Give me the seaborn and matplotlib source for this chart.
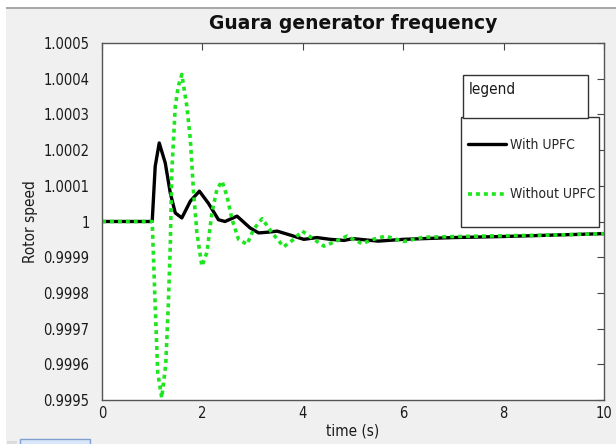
import numpy as np
import pandas as pd
import seaborn as sns
import matplotlib.pyplot as plt
from matplotlib.patches import Rectangle

# values: time (s) and rotor speed deviation from 1 (x 1e-4)
t_upfc = [0, 1.0, 1.06, 1.14, 1.26, 1.36, 1.46, 1.59, 1.76, 1.94, 2.12, 2.32, 2.45,
          2.69, 2.95, 3.12, 3.30, 3.49, 3.75, 4.02, 4.28, 4.55, 4.82, 5.0, 5.5,
          6.0, 7.0, 8.0, 9.0, 10.0]
dev_upfc = [0, 0, 1.55, 2.2, 1.64, 0.8, 0.24, 0.1, 0.57, 0.85, 0.51, 0.05, 0.0,
            0.15, -0.18, -0.32, -0.3, -0.27, -0.38, -0.5, -0.45, -0.5, -0.53, -0.48, -0.55,
            -0.5, -0.45, -0.42, -0.38, -0.34]

t_no_upfc = [0, 1.0, 1.06, 1.11, 1.19, 1.27, 1.32, 1.36, 1.39, 1.46, 1.52, 1.59,
             1.69, 1.76, 1.82, 1.89, 1.99, 2.09, 2.19, 2.29, 2.39, 2.49, 2.59, 2.72,
             2.89, 3.02, 3.19, 3.39, 3.62, 3.80, 3.99, 4.20, 4.42, 4.65, 4.88, 5.18,
             5.40, 5.65, 6.01, 6.41, 7.09, 8.0, 9.0, 10.0]
dev_no_upfc = [0, 0, -2.37, -4.23, -4.94, -4.0, -2.37, -0.69, 1.37, 3.23, 3.79, 4.12,
               3.23, 2.3, 0.9, -0.31, -1.25, -0.87, 0.25, 0.9, 1.13, 0.71, 0.06, -0.5,
               -0.64, -0.22, 0.08, -0.32, -0.71, -0.52, -0.27, -0.48, -0.69, -0.56, -0.41, -0.62,
               -0.5, -0.41, -0.56, -0.44, -0.42, -0.4, -0.38, -0.34]

series_names = ['With UPFC', 'Without UPFC']
y_ticks = [0.9995, 0.9996, 0.9997, 0.9998, 0.9999, 1.0, 1.0001, 1.0002, 1.0003, 1.0004, 1.0005]
y_ticklabels = ['0.9995', '0.9996', '0.9997', '0.9998', '0.9999', '1',
                '1.0001', '1.0002', '1.0003', '1.0004', '1.0005']
x_ticks = [0, 2, 4, 6, 8, 10]

df1 = pd.DataFrame({'t': t_upfc, 'speed': 1 + np.array(dev_upfc) * 1e-4})
df2 = pd.DataFrame({'t': t_no_upfc, 'speed': 1 + np.array(dev_no_upfc) * 1e-4})

sns.set_style('white')
plt.rcParams['font.family'] = ['DejaVu Sans']
plt.rcParams['font.stretch'] = 'condensed'

W, H = 616, 444
fig = plt.figure(figsize=(W / 100, H / 100), dpi=100, facecolor='white')

# window background like the screenshot
fig.patches.append(Rectangle((6 / W, 0), 1, (H - 8) / H, transform=fig.transFigure,
                             facecolor='#f0f0f0', edgecolor='none', zorder=-5))
fig.patches.append(Rectangle((6 / W, (H - 9) / H), 1, 1.5 / H, transform=fig.transFigure,
                             facecolor='#a8a8a8', edgecolor='none', zorder=-4))
fig.patches.append(Rectangle((20 / W, -0.01), 70 / W, 9 / H, transform=fig.transFigure,
                             facecolor='#d8e8fa', edgecolor='#7f9fcf', lw=1, zorder=-3))
fig.patches.append(Rectangle((7 / W, -0.01), 10 / W, 7 / H, transform=fig.transFigure,
                             facecolor='#dcdcdc', edgecolor='none', zorder=-3))

ax = fig.add_axes([102 / W, 1 - 400 / H, 502 / W, 357 / H])
ax.set_facecolor('white')

sns.lineplot(data=df1, x='t', y='speed', ax=ax, color='black', linewidth=2.4,
             label=series_names[0])
sns.lineplot(data=df2, x='t', y='speed', ax=ax, color='#1ee61e', linewidth=2.6,
             linestyle=(0, (1.1, 1.1)), label=series_names[1])

ax.set_xlim(0, 10)
ax.set_ylim(0.9995, 1.0005)
ax.set_xticks(x_ticks)
ax.set_xticklabels([str(v) for v in x_ticks])
ax.set_yticks(y_ticks)
ax.set_yticklabels(y_ticklabels)
ax.tick_params(direction='in', length=5, width=0.8, color='#444444',
               top=True, right=True, labelsize=10.5, labelcolor='#1a1a1a')
ax.tick_params(axis='y', pad=9)
ax.tick_params(axis='x', pad=4)
for s in ax.spines.values():
    s.set_color('#555555')
    s.set_linewidth(1.0)

ax.set_xlabel('time (s)', fontsize=11, color='#1a1a1a', labelpad=2)
ax.set_ylabel('Rotor speed', fontsize=11, color='#1a1a1a', labelpad=4)
ax.set_title('Guara generator frequency', fontsize=13.5, fontweight='bold',
             fontstretch='normal', color='#111111', pad=10)

# legend entries without their own frame; frame drawn as a box to match the screenshot
leg = ax.legend(loc='upper left', bbox_to_anchor=(468 / W, 1 - 138 / H),
                bbox_transform=fig.transFigure, frameon=False, fontsize=10,
                handlelength=2.7, labelspacing=2.55, borderpad=0, borderaxespad=0,
                handletextpad=0.3)
leg.set_zorder(10)
ax.add_patch(Rectangle((461 / W, 1 - 227 / H), 138 / W, 110 / H,
                       transform=fig.transFigure, facecolor='white', clip_on=False,
                       edgecolor='#333333', lw=1.0, zorder=8))

# separate "legend" header box above the legend
ax.add_patch(Rectangle((463 / W, 1 - 118 / H), 125 / W, 43 / H,
                       transform=fig.transFigure, facecolor='white', clip_on=False,
                       edgecolor='#333333', lw=1.0, zorder=9))
ax.text(469 / W, 1 - 89 / H, 'legend', fontsize=11, color='#1a1a1a',
        transform=fig.transFigure, ha='left', va='center', zorder=11)

fig.savefig('out.png', dpi=100)
